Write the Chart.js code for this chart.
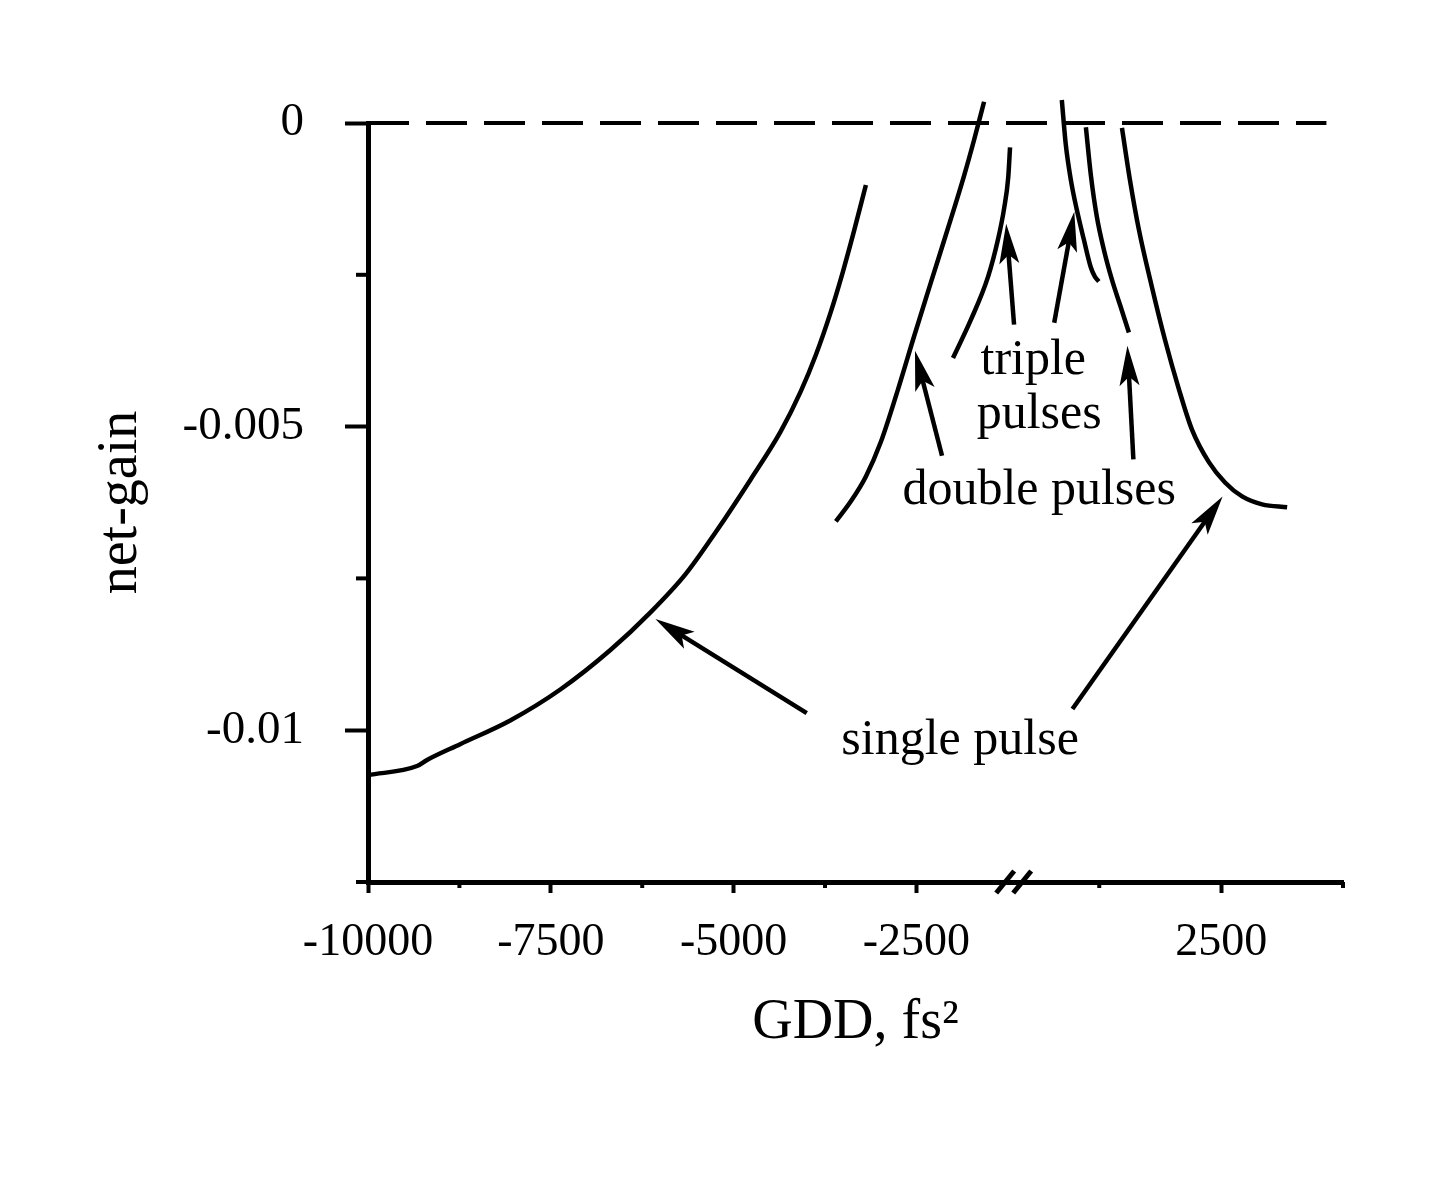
<!DOCTYPE html>
<html>
<head>
<meta charset="utf-8">
<script src="https://cdn.jsdelivr.net/npm/chart.js@4.4.0/dist/chart.umd.min.js"></script>
<style>
  html, body { margin: 0; padding: 0; background: #ffffff; }
  canvas { display: block; }
</style>
</head>
<body>
<canvas id="c" width="1438" height="1193"></canvas>
<script>
// ---------------- data (GDD in fs^2, net-gain) ----------------
// single pulse, negative GDD branch
const singleLeftGDD  = [-10000, -9329, -9192, -8740, -8055, -7370, -6685, -6137, -5657, -5246, -4767, -4356, -4082, -3876, -3671, -3506, -3356, -3191];
const singleLeftGain = [-0.01074, -0.01059, -0.01049, -0.01023, -0.00984, -0.00933, -0.00868, -0.00806, -0.00743, -0.00674, -0.00587, -0.00508, -0.00442, -0.00382, -0.00311, -0.00245, -0.00179, -0.00102];
// double pulses, negative GDD branch
const doubleLeftGDD  = [-3602, -3397, -3191, -2986, -2753, -2534, -2301, -2068, -1849, -1712, -1575];
const doubleLeftGain = [-0.00656, -0.00623, -0.00582, -0.00525, -0.00439, -0.00352, -0.00262, -0.00173, -0.00087, -0.00028, 0.00035];
// triple pulses, negative GDD branch
const tripleLeftGDD  = [-2000, -1755, -1520, -1385, -1300, -1245, -1220];
const tripleLeftGain = [-0.00387, -0.00324, -0.00253, -0.00192, -0.00140, -0.00090, -0.00040];
// triple pulses, positive GDD branch
const tripleRightGDD  = [866, 907, 959, 1020, 1092, 1164, 1205, 1246];
const tripleRightGain = [0.00038, -0.00036, -0.00094, -0.00143, -0.00192, -0.00238, -0.00253, -0.00261];
// double pulses, positive GDD branch
const doubleRightGDD  = [1113, 1164, 1226, 1298, 1380, 1462, 1554];
const doubleRightGain = [-0.00007, -0.00086, -0.00155, -0.00209, -0.00258, -0.00299, -0.00345];
// single pulse, positive GDD branch
const singleRightGDD  = [1483, 1565, 1657, 1790, 1924, 2068, 2201, 2376, 2540, 2715, 2920, 3177];
const singleRightGain = [-0.00008, -0.00094, -0.00176, -0.00270, -0.00357, -0.00439, -0.00505, -0.00559, -0.00592, -0.00615, -0.00628, -0.00633];
// zero net-gain reference line
const zeroLineGDD  = [-10000, 3580];
const zeroLineGain = [0, 0];

// ticks
const xTickGDD    = [-10000, -8750, -7500, -6250, -5000, -3750, -2500, 1250, 2500, 3750];
const xTickLabels = ['-10000', '', '-7500', '', '-5000', '', '-2500', '', '2500', ''];
const yTickValues = [-0.0125, -0.01, -0.0075, -0.005, -0.0025, 0];
const yTickLabels = ['', '-0.01', '', '-0.005', '', '0'];
const xAxisMaxGDD = 3750;
const xBreakGDD   = -1170;

// annotations (data units)
const arrowTailGDD  = [-4000, 975, -2150, 1600, -1165, 788];
const arrowTailGain = [-0.00972, -0.00965, -0.00548, -0.00554, -0.00332, -0.00329];
const arrowHeadGDD  = [-6070, 2515, -2520, 1539, -1273, 994];
const arrowHeadGain = [-0.00817, -0.00615, -0.00375, -0.00367, -0.00166, -0.00146];
const noteText = ['triple', 'pulses', 'double pulses', 'single pulse'];
const noteGDD  = [573, 634, 634, -1903];
const noteGain = [-0.00414, -0.00502, -0.00628, -0.01039];

// ---------------- broken axis transform ----------------
// left part: linear in GDD; right part (after the break) is stretched 4/3
const RIGHT_ORIGIN = 1250, RIGHT_STRETCH = 4 / 3;
function toAxis(g) { return g < 0 ? g : RIGHT_STRETCH * (g - RIGHT_ORIGIN); }
function series(gs, ys) { return gs.map((g, i) => ({ x: toAxis(g), y: ys[i] })); }

const FONT = 'Liberation Serif';
const curveStyle = { showLine: true, pointRadius: 0, borderColor: '#000', borderWidth: 4.5, fill: false, clip: false, cubicInterpolationMode: 'monotone' };

const datasets = [
  Object.assign({ label: 'zero', data: series(zeroLineGDD, zeroLineGain) }, curveStyle, { cubicInterpolationMode: 'default', tension: 0, borderWidth: 4, borderDash: [41, 17] }),
  Object.assign({ label: 'single pulse (GDD<0)', data: series(singleLeftGDD, singleLeftGain) }, curveStyle),
  Object.assign({ label: 'double pulses (GDD<0)', data: series(doubleLeftGDD, doubleLeftGain) }, curveStyle),
  Object.assign({ label: 'triple pulses (GDD<0)', data: series(tripleLeftGDD, tripleLeftGain) }, curveStyle),
  Object.assign({ label: 'triple pulses (GDD>0)', data: series(tripleRightGDD, tripleRightGain) }, curveStyle),
  Object.assign({ label: 'double pulses (GDD>0)', data: series(doubleRightGDD, doubleRightGain) }, curveStyle),
  Object.assign({ label: 'single pulse (GDD>0)', data: series(singleRightGDD, singleRightGain) }, curveStyle)
];

function drawArrow(ctx, x1, y1, x2, y2) {
  const a = Math.atan2(y2 - y1, x2 - x1), c = Math.cos(a), s = Math.sin(a);
  const L = 40, W = 10;
  ctx.beginPath();
  ctx.moveTo(x1, y1);
  ctx.lineTo(x2 - (L - 10) * c, y2 - (L - 10) * s);
  ctx.lineWidth = 4.5;
  ctx.stroke();
  const bx = x2 - L * c, by = y2 - L * s;
  ctx.beginPath();
  ctx.moveTo(x2, y2);
  ctx.lineTo(bx - W * s, by + W * c);
  ctx.lineTo(x2 - (L - 9) * c, y2 - (L - 9) * s);
  ctx.lineTo(bx + W * s, by - W * c);
  ctx.closePath();
  ctx.fill();
}

const extras = {
  id: 'extras',
  afterDraw(chart) {
    const ctx = chart.ctx, xs = chart.scales.x, ys = chart.scales.y;
    ctx.save();
    ctx.strokeStyle = '#000';
    ctx.fillStyle = '#000';
    ctx.lineCap = 'butt';
    // minor ticks
    ctx.lineWidth = 4;
    xTickGDD.forEach((g, i) => {
      if (xTickLabels[i] !== '') return;
      const px = xs.getPixelForValue(toAxis(g));
      ctx.beginPath(); ctx.moveTo(px, xs.top); ctx.lineTo(px, xs.top + 6); ctx.stroke();
    });
    yTickValues.forEach((v, i) => {
      if (yTickLabels[i] !== '') return;
      const py = ys.getPixelForValue(v);
      ctx.beginPath(); ctx.moveTo(ys.right, py); ctx.lineTo(ys.right - 12, py); ctx.stroke();
    });
    // axis break marks
    const bxp = xs.getPixelForValue(toAxis(xBreakGDD)), byp = xs.top;
    ctx.lineWidth = 5;
    [-8.5, 8.5].forEach(d => {
      ctx.beginPath();
      ctx.moveTo(bxp + d - 9, byp + 11);
      ctx.lineTo(bxp + d + 9, byp - 11);
      ctx.stroke();
    });
    // arrows
    arrowTailGDD.forEach((g, i) => {
      drawArrow(ctx,
        xs.getPixelForValue(toAxis(g)), ys.getPixelForValue(arrowTailGain[i]),
        xs.getPixelForValue(toAxis(arrowHeadGDD[i])), ys.getPixelForValue(arrowHeadGain[i]));
    });
    // notes
    ctx.font = '50px "' + FONT + '"';
    ctx.textAlign = 'center';
    ctx.textBaseline = 'alphabetic';
    noteText.forEach((t, i) => {
      ctx.fillText(t, xs.getPixelForValue(toAxis(noteGDD[i])), ys.getPixelForValue(noteGain[i]));
    });
    ctx.restore();
  }
};

new Chart(document.getElementById('c'), {
  type: 'scatter',
  data: { datasets },
  options: {
    responsive: false,
    animation: false,
    devicePixelRatio: 1,
    layout: { padding: { left: 0, top: 123, right: 95, bottom: 0 } },
    plugins: { legend: { display: false }, tooltip: { enabled: false } },
    scales: {
      x: {
        type: 'linear',
        min: toAxis(xTickGDD[0]),
        max: toAxis(xAxisMaxGDD),
        afterBuildTicks: s => { s.ticks = xTickGDD.map(g => ({ value: toAxis(g) })); },
        afterFit: s => { s.height = 311; },
        ticks: {
          autoSkip: false, maxRotation: 0, minRotation: 0, padding: 22, color: '#000',
          font: { family: FONT, size: 46 },
          callback: (v, i) => xTickLabels[i]
        },
        grid: {
          drawOnChartArea: false, drawTicks: true, tickLength: 11, tickWidth: 4,
          tickColor: ctx => (ctx.tick && xTickLabels[ctx.index] !== '') ? '#000' : 'rgba(0,0,0,0)'
        },
        border: { display: true, color: '#000', width: 5 },
        title: {
          display: true, text: 'GDD, fs²', color: '#000',
          font: { family: FONT, size: 56 }, padding: { top: 0, bottom: 136 }
        }
      },
      y: {
        type: 'linear',
        min: -0.0125,
        max: 0,
        afterBuildTicks: s => { s.ticks = yTickValues.map(v => ({ value: v })); },
        afterFit: s => { s.width = 368; },
        ticks: {
          padding: 41, color: '#000',
          font: { family: FONT, size: 47 },
          callback: (v, i) => yTickLabels[i]
        },
        grid: {
          drawOnChartArea: false, drawTicks: true, tickLength: 23, tickWidth: 4,
          tickColor: ctx => (ctx.tick && yTickLabels[ctx.index] !== '') ? '#000' : 'rgba(0,0,0,0)'
        },
        border: { display: true, color: '#000', width: 5 },
        title: {
          display: true, text: 'net-gain', color: '#000',
          font: { family: FONT, size: 56 }, padding: { top: 88, bottom: 0 }
        }
      }
    }
  },
  plugins: [extras]
});
</script>
</body>
</html>
